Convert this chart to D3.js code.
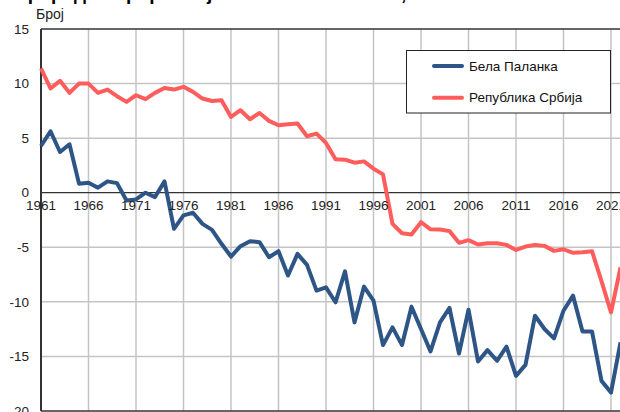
<!DOCTYPE html>
<html><head><meta charset="utf-8">
<script src="https://cdnjs.cloudflare.com/ajax/libs/d3/7.8.5/d3.min.js"></script>
<style>
html,body{margin:0;padding:0;background:#fff;overflow:hidden;}
svg{display:block;font-family:"Liberation Sans",Arial,sans-serif;}
</style></head>
<body>
<svg id="c" width="620" height="412"></svg>
<script>
const title = "Природни прираштај на 1000 становника, 1961–2022";
const yLabel = "Број";
const years = d3.range(1961, 2023);
const xTicks = [1961,1966,1971,1976,1981,1986,1991,1996,2001,2006,2011,2016,2021];
const yTicks = [15,10,5,0,-5,-10,-15,-20];
const seriesNames = ["Бела Паланка", "Република Србија"];
const belaPalanka = [4.28,5.63,3.73,4.44,0.83,0.92,0.46,1.04,0.88,
  -0.71,-0.62,0.0,-0.4,1.04,-3.31,-2.08,-1.84,-2.85,-3.4,
  -4.68,-5.85,-4.9,-4.44,-4.53,-5.91,-5.36,-7.59,-5.6,-6.61,
  -8.97,-8.67,-10.04,-7.2,-11.88,-8.6,-9.89,-13.96,-12.34,-13.96,
  -10.44,-12.49,-14.54,-11.88,-10.56,-14.73,-10.72,-15.46,-14.42,-15.4,
  -14.11,-16.78,-15.77,-11.27,-12.49,-13.35,-10.81,-9.43,-12.71,-12.71,
  -17.24,-18.31,-13.72];
const srbija = [11.39,9.55,10.25,9.15,10.0,10.0,9.15,9.45,8.84,
  8.32,8.93,8.57,9.15,9.6,9.45,9.7,9.24,8.63,8.4,
  8.47,6.94,7.56,6.73,7.31,6.58,6.18,6.27,6.34,5.17,
  5.42,4.56,3.06,3.03,2.75,2.87,2.2,1.68,-2.85,-3.71,
  -3.83,-2.7,-3.35,-3.37,-3.52,-4.59,-4.35,-4.75,-4.63,-4.63,
  -4.78,-5.24,-4.93,-4.78,-4.87,-5.33,-5.18,-5.51,-5.45,-5.36,
  -8.1,-10.96,-6.85];
const colors = ["#2d5686", "#ff5c5c"];

const svg = d3.select("#c");
const x = d3.scaleLinear().domain([1961, 2022]).range([41, 620.5]);
const y = d3.scaleLinear().domain([-20, 15]).range([411, 29]);

// title (mostly cut off at top)
svg.append("text").attr("x", 14).attr("y", 0).attr("font-size", 19).attr("font-weight", "bold")
  .attr("fill", "#000").text(title);
svg.append("text").attr("x", 36).attr("y", 19).attr("font-size", 14).attr("fill", "#222").text(yLabel);

// gridlines
const g = svg.append("g");
g.selectAll(".vg").data(xTicks.slice(1)).join("line")
  .attr("x1", d => x(d)).attr("x2", d => x(d)).attr("y1", y(15)).attr("y2", y(-20))
  .attr("stroke", "#c4c4c4").attr("stroke-width", 1.5);
g.selectAll(".hg").data(yTicks.filter(d => d !== 0 && d !== 15 && d !== -20)).join("line")
  .attr("x1", x(1961)).attr("x2", 625).attr("y1", d => y(d)).attr("y2", d => y(d))
  .attr("stroke", "#c4c4c4").attr("stroke-width", 1.5);
// frame
g.append("line").attr("x1", x(1961)).attr("x2", 625).attr("y1", y(15)).attr("y2", y(15)).attr("stroke", "#333").attr("stroke-width", 1.5);
g.append("line").attr("x1", x(1961)).attr("x2", 625).attr("y1", y(-20)).attr("y2", y(-20)).attr("stroke", "#333").attr("stroke-width", 1.5);
g.append("line").attr("x1", x(1961)).attr("x2", 625).attr("y1", y(0)).attr("y2", y(0)).attr("stroke", "#333").attr("stroke-width", 1.2);
g.append("line").attr("x1", x(1961)).attr("x2", x(1961)).attr("y1", y(15)).attr("y2", y(-20)).attr("stroke", "#333").attr("stroke-width", 2);

// y tick labels
svg.selectAll(".yl").data(yTicks).join("text")
  .attr("x", 29).attr("y", d => y(d)).attr("dy", "0.35em").attr("text-anchor", "end")
  .attr("font-size", 13.5).attr("fill", "#222").text(d => d);

// lines
const line = d3.line().x((d, i) => x(years[i])).y(d => y(d));
[belaPalanka, srbija].forEach((s, k) => {
  svg.append("path").datum(s).attr("d", line).attr("fill", "none")
    .attr("stroke", colors[k]).attr("stroke-width", 4).attr("stroke-linejoin", "round");
});

// x tick labels (inside, below zero line)
svg.selectAll(".xl").data(xTicks).join("text")
  .attr("x", d => x(d)).attr("y", y(0) + 17).attr("text-anchor", "middle")
  .attr("font-size", 13.5).attr("fill", "#222").text(d => d);

// legend
const lg = svg.append("g");
lg.append("rect").attr("x", 406.5).attr("y", 50.5).attr("width", 204).attr("height", 62.5)
  .attr("fill", "#fff").attr("stroke", "#222").attr("stroke-width", 1);
seriesNames.forEach((n, i) => {
  const yy = 66 + i * 31.7;
  lg.append("line").attr("x1", 434).attr("x2", 462).attr("y1", yy).attr("y2", yy)
    .attr("stroke", colors[i]).attr("stroke-width", 4).attr("stroke-linecap", "round");
  lg.append("text").attr("x", 469).attr("y", yy).attr("dy", "0.35em")
    .attr("font-size", 13.5).attr("fill", "#111").text(n);
});
</script>
</body></html>
